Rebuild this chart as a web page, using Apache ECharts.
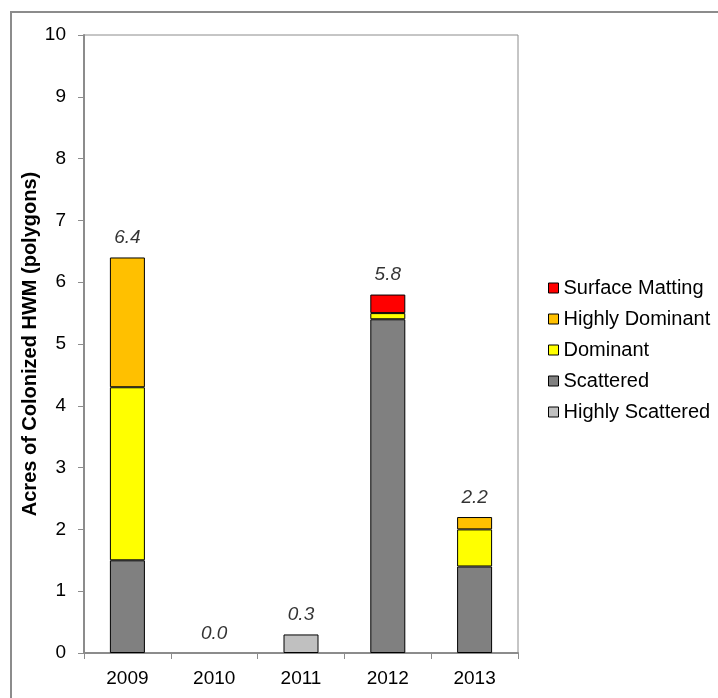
<!DOCTYPE html>
<html>
<head>
<meta charset="utf-8">
<script src="https://cdn.jsdelivr.net/npm/echarts@6/dist/echarts.min.js"></script>
<style>html,body{margin:0;padding:0;background:#fff;}#c{width:718px;height:698px;}</style>
</head>
<body>
<div id="c"></div>
<script>
var years = ['2009', '2010', '2011', '2012', '2013'];
var highlyScattered = [0, 0, 0.3, 0, 0];
var scattered = [1.5, 0, 0, 5.4, 1.4];
var dominant = [2.8, 0, 0, 0.1, 0.6];
var highlyDominant = [2.1, 0, 0, 0, 0.2];
var surfaceMatting = [0, 0, 0, 0.3, 0];
var totals = [6.4, 0.0, 0.3, 5.8, 2.2];
var yTicks = [0, 1, 2, 3, 4, 5, 6, 7, 8, 9, 10];

var FONT = '"Liberation Sans", Arial, sans-serif';
function clean(arr) { return arr.map(function (v) { return v === 0 ? '-' : v; }); }
function barSeries(name, data, color) {
  return {
    name: name, type: 'bar', stack: 'a', data: clean(data), barWidth: 35,
    itemStyle: { color: color, borderColor: '#000', borderWidth: 1 },
    emphasis: { disabled: true }
  };
}
var chart = echarts.init(document.getElementById('c'));
chart.setOption({
  animation: false,
  textStyle: { fontFamily: FONT },
  grid: { left: 84, top: 35, right: 200, bottom: 45, show: true, borderColor: '#8c8c8c', borderWidth: 1, backgroundColor: 'transparent' },
  graphic: [{
    type: 'rect', shape: { x: 11, y: 12, width: 900, height: 900 },
    style: { fill: 'none', stroke: '#8c8c8c', lineWidth: 2 }, silent: true, z: -1
  }],
  legend: {
    orient: 'vertical', left: 543, top: 273,
    icon: 'rect',
    itemWidth: 10, itemHeight: 10, itemGap: 11,
    itemStyle: { borderColor: '#000', borderWidth: 1 },
    textStyle: { fontSize: 20, color: '#000', fontFamily: FONT },
    data: ['Surface Matting', 'Highly Dominant', 'Dominant', 'Scattered', 'Highly Scattered'],
    selectedMode: false
  },
  xAxis: {
    type: 'category', data: years,
    axisLine: { lineStyle: { color: '#8c8c8c', width: 2 } },
    axisTick: { show: true, length: 6, lineStyle: { color: '#8c8c8c', width: 1 } },
    axisLabel: { color: '#000', fontSize: 19, margin: 16, fontFamily: FONT }
  },
  yAxis: {
    type: 'value', min: yTicks[0], max: yTicks[yTicks.length - 1], interval: 1,
    name: 'Acres of Colonized HWM (polygons)', nameLocation: 'middle', nameGap: 44,
    nameMoveOverlap: false,
    nameTextStyle: { fontWeight: 'bold', fontSize: 20, color: '#000', fontFamily: FONT },
    axisLine: { show: true, lineStyle: { color: '#8c8c8c', width: 2 } },
    axisTick: { show: true, length: 6, lineStyle: { color: '#8c8c8c', width: 1 } },
    splitLine: { show: false },
    axisLabel: { color: '#000', fontSize: 19, margin: 18, fontFamily: FONT }
  },
  series: [
    barSeries('Highly Scattered', highlyScattered, '#C0C0C0'),
    barSeries('Scattered', scattered, '#808080'),
    barSeries('Dominant', dominant, '#FFFF00'),
    barSeries('Highly Dominant', highlyDominant, '#FFC000'),
    barSeries('Surface Matting', surfaceMatting, '#FF0000'),
    {
      name: 'Total', type: 'scatter', data: totals, symbolSize: 0, silent: true,
      label: {
        show: true, position: 'top', distance: 10, fontSize: 19, fontStyle: 'italic', color: '#000', fontFamily: FONT,
        formatter: function (p) { return p.value.toFixed(1); }
      }
    }
  ]
});
</script>
</body>
</html>
